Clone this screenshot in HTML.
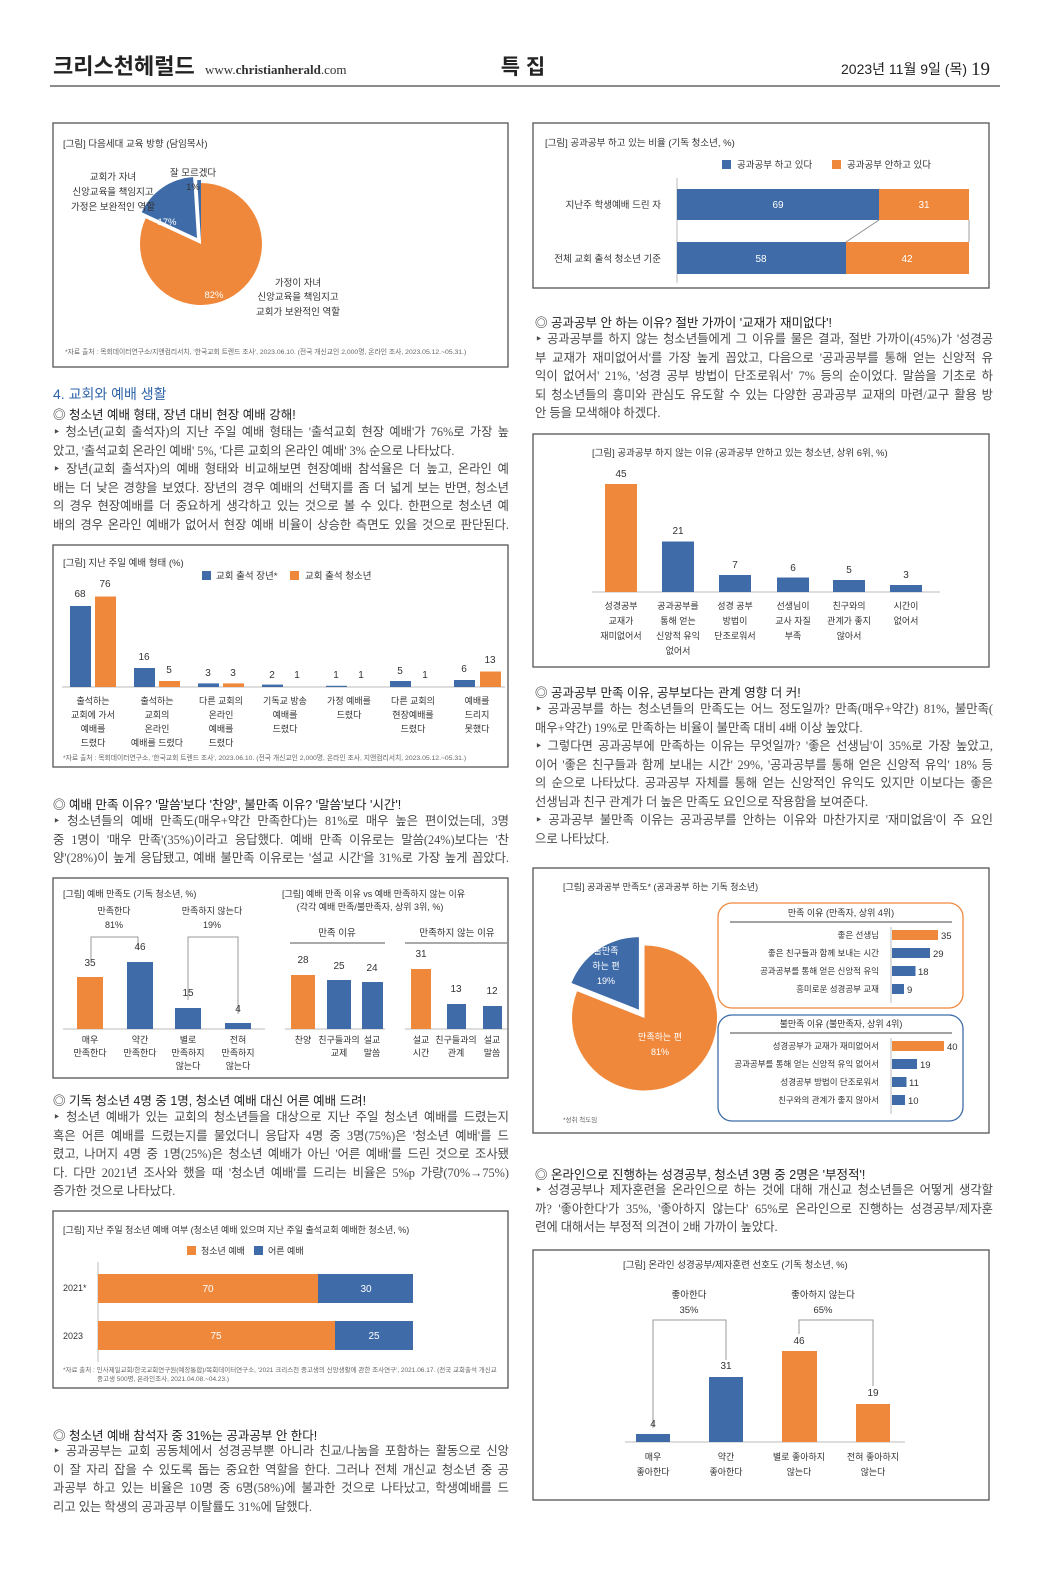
<!DOCTYPE html>
<html><head><meta charset="utf-8">
<style>
body{margin:0;background:#fff;}
#pg{position:relative;width:1051px;height:1580px;overflow:hidden;background:#fff;}
svg{position:absolute;left:0;top:0;}
.p{position:absolute;font-family:"Liberation Serif","Noto Sans CJK KR",serif;font-size:12.3px;line-height:18.5px;color:#4a4a4a;}
.p div{white-space:nowrap;height:18.5px;}
.p .j{text-align:justify;text-align-last:justify;}
.h{position:absolute;font-family:"Liberation Sans","Noto Sans CJK KR",sans-serif;font-size:12.5px;color:#222;white-space:nowrap;}
</style></head><body><div id="pg">
<svg width="1051" height="1580" viewBox="0 0 1051 1580" font-family="Liberation Sans, Noto Sans CJK KR, sans-serif">
<!-- header -->
<text x="53" y="74" font-size="22" font-weight="bold" fill="#222">크리스천헤럴드</text>
<text x="205" y="74" font-size="13" fill="#333" font-family="Liberation Serif, serif">www.<tspan font-weight="bold">christianherald</tspan>.com</text>
<text x="523" y="74" font-size="21" font-weight="bold" fill="#222" text-anchor="middle">특 집</text>
<text x="967" y="74" font-size="14" fill="#222" text-anchor="end">2023년 11월 9일 (목)</text>
<text x="990" y="75" font-size="19" fill="#222" text-anchor="end" font-family="Liberation Serif, serif">19</text>
<line x1="50" y1="86" x2="1000" y2="86" stroke="#666" stroke-width="1.5"/>

<g fill="none" stroke="#555" stroke-width="1.3">
<rect x="53" y="123" width="455" height="244"/>
<rect x="53" y="545" width="455" height="222"/>
<rect x="53" y="878" width="455" height="200"/>
<rect x="53" y="1211" width="455" height="177"/>
<rect x="533" y="123" width="456" height="165"/>
<rect x="533" y="434" width="456" height="233"/>
<rect x="533" y="868" width="456" height="265"/>
<rect x="533" y="1250" width="456" height="250"/>
</g>

<!-- chart 1 pie -->
<g font-size="9.5" fill="#333">
<text x="63" y="147">[그림] 다음세대 교육 방향 (담임목사)</text>
<path d="M201,244 L201,183 A61,61 0 1 1 145.7,218.2 Z" fill="#f0883c"/>
<path d="M197,238 L141.7,212.2 A61,61 0 0 1 193.1,177.1 Z" fill="#3f6ca8"/>
<path d="M201,241 L197.2,180.1 A61,61 0 0 1 201,180 Z" fill="#3f6ca8"/>
<text x="113" y="180" text-anchor="middle">교회가 자녀</text>
<text x="113" y="195" text-anchor="middle">신앙교육을 책임지고</text>
<text x="113" y="210" text-anchor="middle">가정은 보완적인 역할</text>
<text x="193" y="176" text-anchor="middle">잘 모르겠다</text>
<text x="193" y="190" text-anchor="middle">1%</text>
<text x="167" y="225" text-anchor="middle" fill="#fff">17%</text>
<text x="214" y="298" text-anchor="middle" fill="#fff">82%</text>
<text x="298" y="286" text-anchor="middle">가정이 자녀</text>
<text x="298" y="300" text-anchor="middle">신앙교육을 책임지고</text>
<text x="298" y="315" text-anchor="middle">교회가 보완적인 역할</text>
<text x="65" y="354" font-size="6.8" fill="#666">*자료 출처 : 목회데이터연구소/지앤컴리서치, '한국교회 트렌드 조사', 2023.06.10. (전국 개신교인 2,000명, 온라인 조사, 2023.05.12.~05.31.)</text>
</g>

<!-- chart 2 -->
<g font-size="9.5" fill="#333">
<text x="63" y="566">[그림] 지난 주일 예배 형태 (%)</text>
<rect x="202" y="571" width="9" height="9" fill="#3f6ca8"/><text x="216" y="579">교회 출석 장년*</text>
<rect x="290" y="571" width="9" height="9" fill="#f0883c"/><text x="305" y="579">교회 출석 청소년</text>
<line x1="62" y1="687" x2="505" y2="687" stroke="#bbb"/>
<g fill="#3f6ca8">
<rect x="70" y="606" width="21" height="81"/>
<rect x="134" y="668" width="21" height="19"/>
<rect x="198" y="683.4" width="21" height="3.6"/>
<rect x="262" y="684.6" width="21" height="2.4"/>
<rect x="326" y="685.8" width="21" height="1.2"/>
<rect x="390" y="681" width="21" height="6"/>
<rect x="454" y="680" width="21" height="7"/>
</g>
<g fill="#f0883c">
<rect x="95" y="596.5" width="21" height="90.5"/>
<rect x="159" y="681" width="21" height="6"/>
<rect x="223" y="683.4" width="21" height="3.6"/>
<rect x="480" y="671.5" width="21" height="15.5"/>
</g>
<g text-anchor="middle" font-size="10">
<text x="80" y="597">68</text><text x="105" y="587">76</text>
<text x="144" y="660">16</text><text x="169" y="673">5</text>
<text x="208" y="676">3</text><text x="233" y="676">3</text>
<text x="272" y="678">2</text><text x="297" y="678">1</text>
<text x="336" y="678">1</text><text x="361" y="678">1</text>
<text x="400" y="674">5</text><text x="425" y="678">1</text>
<text x="464" y="672">6</text><text x="490" y="663">13</text>
</g>
<g text-anchor="middle" font-size="9">
<text x="93" y="704">출석하는</text><text x="93" y="718">교회에 가서</text><text x="93" y="732">예배를</text><text x="93" y="746">드렸다</text>
<text x="157" y="704">출석하는</text><text x="157" y="718">교회의</text><text x="157" y="732">온라인</text><text x="157" y="746">예배를 드렸다</text>
<text x="221" y="704">다른 교회의</text><text x="221" y="718">온라인</text><text x="221" y="732">예배를</text><text x="221" y="746">드렸다</text>
<text x="285" y="704">기독교 방송</text><text x="285" y="718">예배를</text><text x="285" y="732">드렸다</text>
<text x="349" y="704">가정 예배를</text><text x="349" y="718">드렸다</text>
<text x="413" y="704">다른 교회의</text><text x="413" y="718">현장예배를</text><text x="413" y="732">드렸다</text>
<text x="477" y="704">예배를</text><text x="477" y="718">드리지</text><text x="477" y="732">못했다</text>
</g>
<text x="63" y="760" font-size="6.8" fill="#666">*자료 출처 : 목회데이터연구소, '한국교회 트렌드 조사', 2023.06.10. (전국 개신교인 2,000명, 온라인 조사, 지앤컴리서치, 2023.05.12.~05.31.)</text>
</g>

<!-- chart 3 -->
<g font-size="9" fill="#333">
<text x="63" y="897">[그림] 예배 만족도 (기독 청소년, %)</text>
<text x="114" y="914" text-anchor="middle">만족한다</text><text x="114" y="928" text-anchor="middle">81%</text>
<text x="212" y="914" text-anchor="middle">만족하지 않는다</text><text x="212" y="928" text-anchor="middle">19%</text>
<g stroke="#999" fill="none"><path d="M91,960 V937 H138 V950"/><path d="M188,1000 V937 H238 V1014"/></g>
<line x1="63" y1="1029" x2="265" y2="1029" stroke="#bbb"/>
<rect x="77" y="977" width="26" height="52" fill="#f0883c"/>
<rect x="127" y="962" width="26" height="67" fill="#3f6ca8"/>
<rect x="175" y="1008" width="26" height="21" fill="#3f6ca8"/>
<rect x="225" y="1023" width="26" height="6" fill="#3f6ca8"/>
<g text-anchor="middle" font-size="10"><text x="90" y="966">35</text><text x="140" y="950">46</text><text x="188" y="996">15</text><text x="238" y="1012">4</text></g>
<g text-anchor="middle">
<text x="90" y="1043">매우</text><text x="90" y="1056">만족한다</text>
<text x="140" y="1043">약간</text><text x="140" y="1056">만족한다</text>
<text x="188" y="1043">별로</text><text x="188" y="1056">만족하지</text><text x="188" y="1069">않는다</text>
<text x="238" y="1043">전혀</text><text x="238" y="1056">만족하지</text><text x="238" y="1069">않는다</text>
</g>
<text x="282" y="897">[그림] 예배 만족 이유 vs 예배 만족하지 않는 이유</text>
<text x="370" y="910" text-anchor="middle">(각각 예배 만족/불만족자, 상위 3위, %)</text>
<text x="337" y="936" text-anchor="middle" font-size="9.5">만족 이유</text>
<text x="457" y="936" text-anchor="middle" font-size="9.5">만족하지 않는 이유</text>
<line x1="290" y1="943" x2="385" y2="943" stroke="#555"/>
<line x1="405" y1="943" x2="507" y2="943" stroke="#555"/>
<line x1="285" y1="1029" x2="385" y2="1029" stroke="#bbb"/>
<line x1="405" y1="1029" x2="507" y2="1029" stroke="#bbb"/>
<rect x="291" y="975" width="24" height="54" fill="#f0883c"/>
<rect x="327" y="980" width="24" height="49" fill="#3f6ca8"/>
<rect x="362" y="982" width="21" height="47" fill="#3f6ca8"/>
<rect x="411" y="969" width="20" height="60" fill="#f0883c"/>
<rect x="447" y="1004" width="19" height="25" fill="#3f6ca8"/>
<rect x="483" y="1006" width="19" height="23" fill="#3f6ca8"/>
<g text-anchor="middle" font-size="10"><text x="303" y="963">28</text><text x="339" y="969">25</text><text x="372" y="971">24</text><text x="421" y="957">31</text><text x="456" y="992">13</text><text x="492" y="994">12</text></g>
<g text-anchor="middle">
<text x="303" y="1043">찬양</text>
<text x="339" y="1043">친구들과의</text><text x="339" y="1056">교제</text>
<text x="372" y="1043">설교</text><text x="372" y="1056">말씀</text>
<text x="421" y="1043">설교</text><text x="421" y="1056">시간</text>
<text x="456" y="1043">친구들과의</text><text x="456" y="1056">관계</text>
<text x="492" y="1043">설교</text><text x="492" y="1056">말씀</text>
</g>
</g>

<!-- chart 4 -->
<g font-size="9" fill="#333">
<text x="63" y="1233">[그림] 지난 주일 청소년 예배 여부 (청소년 예배 있으며 지난 주일 출석교회 예배한 청소년, %)</text>
<rect x="187" y="1246" width="9" height="9" fill="#f0883c"/><text x="201" y="1254">청소년 예배</text>
<rect x="254" y="1246" width="9" height="9" fill="#3f6ca8"/><text x="268" y="1254">어른 예배</text>
<line x1="98" y1="1262" x2="98" y2="1362" stroke="#bbb"/>
<rect x="98" y="1274" width="220" height="29" fill="#f0883c"/>
<rect x="318" y="1274" width="95" height="29" fill="#3f6ca8"/>
<rect x="98" y="1321" width="237" height="29" fill="#f0883c"/>
<rect x="335" y="1321" width="78" height="29" fill="#3f6ca8"/>
<text x="63" y="1291">2021*</text><text x="63" y="1339">2023</text>
<g fill="#fff" text-anchor="middle" font-size="10"><text x="208" y="1292">70</text><text x="366" y="1292">30</text><text x="216" y="1339">75</text><text x="374" y="1339">25</text></g>
<text x="63" y="1372" font-size="6.5" fill="#666">*자료 출처 : 인사제일교회/한국교회연구원(예장통합)/목회데이터연구소, '2021 크리스천 중고생의 신앙생활에 관한 조사연구', 2021.06.17. (전국 교회출석 개신교</text>
<text x="97" y="1381" font-size="6.5" fill="#666">중고생 500명, 온라인조사, 2021.04.08.~04.23.)</text>
</g>

<!-- chart 5 -->
<g font-size="9.5" fill="#333">
<text x="545" y="146">[그림] 공과공부 하고 있는 비율 (기독 청소년, %)</text>
<rect x="722" y="160" width="9" height="9" fill="#3f6ca8"/><text x="737" y="168">공과공부 하고 있다</text>
<rect x="832" y="160" width="9" height="9" fill="#f0883c"/><text x="847" y="168">공과공부 안하고 있다</text>
<line x1="677" y1="178" x2="677" y2="283" stroke="#bbb"/>
<rect x="677" y="189" width="202" height="31" fill="#3f6ca8"/>
<rect x="879" y="189" width="90" height="31" fill="#f0883c"/>
<rect x="677" y="242" width="169" height="32" fill="#3f6ca8"/>
<rect x="846" y="242" width="123" height="32" fill="#f0883c"/>
<path d="M879,220 L846,242 M969,220 L969,242" stroke="#888" stroke-width="0.8"/>
<text x="661" y="208" text-anchor="end">지난주 학생예배 드린 자</text>
<text x="661" y="262" text-anchor="end">전체 교회 출석 청소년 기준</text>
<g fill="#fff" text-anchor="middle" font-size="10"><text x="778" y="208">69</text><text x="924" y="208">31</text><text x="761" y="262">58</text><text x="907" y="262">42</text></g>
</g>

<!-- chart 6 -->
<g font-size="9.5" fill="#333">
<text x="592" y="456">[그림] 공과공부 하지 않는 이유 (공과공부 안하고 있는 청소년, 상위 6위, %)</text>
<line x1="592" y1="592" x2="940" y2="592" stroke="#bbb"/>
<rect x="605" y="484" width="32" height="108" fill="#f0883c"/>
<rect x="662" y="541.5" width="32" height="50.5" fill="#3f6ca8"/>
<rect x="719" y="575" width="32" height="17" fill="#3f6ca8"/>
<rect x="777" y="577.5" width="32" height="14.5" fill="#3f6ca8"/>
<rect x="833" y="580" width="32" height="12" fill="#3f6ca8"/>
<rect x="890" y="585" width="32" height="7" fill="#3f6ca8"/>
<g text-anchor="middle" font-size="10"><text x="621" y="477">45</text><text x="678" y="534">21</text><text x="735" y="568">7</text><text x="793" y="571">6</text><text x="849" y="573">5</text><text x="906" y="578">3</text></g>
<g text-anchor="middle" font-size="9">
<text x="621" y="609">성경공부</text><text x="621" y="624">교재가</text><text x="621" y="639">재미없어서</text>
<text x="678" y="609">공과공부를</text><text x="678" y="624">통해 얻는</text><text x="678" y="639">신앙적 유익</text><text x="678" y="654">없어서</text>
<text x="735" y="609">성경 공부</text><text x="735" y="624">방법이</text><text x="735" y="639">단조로워서</text>
<text x="793" y="609">선생님이</text><text x="793" y="624">교사 자질</text><text x="793" y="639">부족</text>
<text x="849" y="609">친구와의</text><text x="849" y="624">관계가 좋지</text><text x="849" y="639">않아서</text>
<text x="906" y="609">시간이</text><text x="906" y="624">없어서</text>
</g>
</g>

<!-- chart 7 -->
<g font-size="9" fill="#333">
<text x="563" y="890">[그림] 공과공부 만족도* (공과공부 하는 기독 청소년)</text>
<path d="M644.5,1018 L644.5,945.5 A72.5,72.5 0 1 1 577.1,991.3 Z" fill="#f0883c"/>
<path d="M638.9,1009.7 L571.5,983.0 A72.5,72.5 0 0 1 638.9,937.2 Z" fill="#3f6ca8"/>
<g fill="#fff" text-anchor="middle"><text x="606" y="954">불만족</text><text x="606" y="969">하는 편</text><text x="606" y="984">19%</text>
<text x="660" y="1040">만족하는 편</text><text x="660" y="1055">81%</text></g>
<text x="563" y="1122" font-size="6.5" fill="#666">*성취 척도임</text>
<rect x="718" y="903" width="245" height="105" rx="14" fill="none" stroke="#f0883c" stroke-width="1.3"/>
<rect x="718" y="1015" width="245" height="106" rx="14" fill="none" stroke="#3f6ca8" stroke-width="1.3"/>
<text x="841" y="916" text-anchor="middle">만족 이유 (만족자, 상위 4위)</text>
<line x1="730" y1="922" x2="952" y2="922" stroke="#444"/>
<text x="841" y="1027" text-anchor="middle">불만족 이유 (불만족자, 상위 4위)</text>
<line x1="730" y1="1033" x2="952" y2="1033" stroke="#444"/>
<line x1="891" y1="927" x2="891" y2="1003" stroke="#bbb"/>
<line x1="891" y1="1038" x2="891" y2="1114" stroke="#bbb"/>
<g text-anchor="end" font-size="8.5">
<text x="879" y="938">좋은 선생님</text><text x="879" y="956">좋은 친구들과 함께 보내는 시간</text><text x="879" y="974">공과공부를 통해 얻은 신앙적 유익</text><text x="879" y="992">흥미로운 성경공부 교재</text>
<text x="879" y="1049">성경공부가 교재가 재미없어서</text><text x="879" y="1067">공과공부를 통해 얻는 신앙적 유익 없어서</text><text x="879" y="1085">성경공부 방법이 단조로워서</text><text x="879" y="1103">친구와의 관계가 좋지 않아서</text>
</g>
<rect x="892" y="930" width="46" height="10" fill="#f0883c"/>
<rect x="892" y="948" width="38" height="10" fill="#3f6ca8"/>
<rect x="892" y="966" width="23.5" height="10" fill="#3f6ca8"/>
<rect x="892" y="984" width="12" height="10" fill="#3f6ca8"/>
<rect x="892" y="1041" width="52" height="10" fill="#f0883c"/>
<rect x="892" y="1059" width="25" height="10" fill="#3f6ca8"/>
<rect x="892" y="1077" width="14.5" height="10" fill="#3f6ca8"/>
<rect x="892" y="1095" width="13" height="10" fill="#3f6ca8"/>
<g font-size="9.5">
<text x="941" y="939">35</text><text x="933" y="957">29</text><text x="918" y="975">18</text><text x="907" y="993">9</text>
<text x="947" y="1050">40</text><text x="920" y="1068">19</text><text x="909" y="1086">11</text><text x="908" y="1104">10</text>
</g>
</g>

<!-- chart 8 -->
<g font-size="9.5" fill="#333">
<text x="623" y="1268">[그림] 온라인 성경공부/제자훈련 선호도 (기독 청소년, %)</text>
<text x="689" y="1298" text-anchor="middle">좋아한다</text><text x="689" y="1313" text-anchor="middle">35%</text>
<text x="823" y="1298" text-anchor="middle">좋아하지 않는다</text><text x="823" y="1313" text-anchor="middle">65%</text>
<g stroke="#999" fill="none"><path d="M653,1428 V1320 H726 V1360"/><path d="M799,1334 V1320 H873 V1386"/></g>
<line x1="625" y1="1442" x2="905" y2="1442" stroke="#bbb"/>
<rect x="636" y="1434" width="34" height="8" fill="#3f6ca8"/>
<rect x="709" y="1377" width="34" height="65" fill="#3f6ca8"/>
<rect x="782" y="1351" width="35" height="91" fill="#f0883c"/>
<rect x="856" y="1404" width="34" height="38" fill="#f0883c"/>
<g text-anchor="middle" font-size="10"><text x="653" y="1427">4</text><text x="726" y="1369">31</text><text x="799" y="1344">46</text><text x="873" y="1396">19</text></g>
<g text-anchor="middle" font-size="9">
<text x="653" y="1460">매우</text><text x="653" y="1475">좋아한다</text>
<text x="726" y="1460">약간</text><text x="726" y="1475">좋아한다</text>
<text x="799" y="1460">별로 좋아하지</text><text x="799" y="1475">않는다</text>
<text x="873" y="1460">전혀 좋아하지</text><text x="873" y="1475">않는다</text>
</g>
</g>
</svg>

<div class="h" style="left:53px;top:384px;font-size:14px;color:#2f64a8;">4. 교회와 예배 생활</div>
<div class="h" style="left:53px;top:404px;">◎ 청소년 예배 형태, 장년 대비 현장 예배 강해!</div>
<div class="p" style="left:53px;top:423px;width:456px;">
<div class="j">‣ 청소년(교회 출석자)의 지난 주일 예배 형태는 '출석교회 현장 예배'가 76%로 가장 높</div>
<div>았고, '출석교회 온라인 예배' 5%, '다른 교회의 온라인 예배' 3% 순으로 나타났다.</div>
<div class="j">‣ 장년(교회 출석자)의 예배 형태와 비교해보면 현장예배 참석율은 더 높고, 온라인 예</div>
<div class="j">배는 더 낮은 경향을 보였다. 장년의 경우 예배의 선택지를 좀 더 넓게 보는 반면, 청소년</div>
<div class="j">의 경우 현장예배를 더 중요하게 생각하고 있는 것으로 볼 수 있다. 한편으로 청소년 예</div>
<div class="j">배의 경우 온라인 예배가 없어서 현장 예배 비율이 상승한 측면도 있을 것으로 판단된다.</div>
</div>

<div class="h" style="left:53px;top:794px;">◎ 예배 만족 이유? '말씀'보다 '찬양', 불만족 이유? '말씀'보다 '시간'!</div>
<div class="p" style="left:53px;top:812px;width:456px;">
<div class="j">‣ 청소년들의 예배 만족도(매우+약간 만족한다)는 81%로 매우 높은 편이었는데, 3명</div>
<div class="j">중 1명이 '매우 만족'(35%)이라고 응답했다. 예배 만족 이유로는 말씀(24%)보다는 '찬</div>
<div class="j">양'(28%)이 높게 응답됐고, 예배 불만족 이유로는 '설교 시간'을 31%로 가장 높게 꼽았다.</div>
</div>

<div class="h" style="left:53px;top:1090px;">◎ 기독 청소년 4명 중 1명, 청소년 예배 대신 어른 예배 드려!</div>
<div class="p" style="left:53px;top:1108px;width:456px;">
<div class="j">‣ 청소년 예배가 있는 교회의 청소년들을 대상으로 지난 주일 청소년 예배를 드렸는지</div>
<div class="j">혹은 어른 예배를 드렸는지를 물었더니 응답자 4명 중 3명(75%)은 '청소년 예배'를 드</div>
<div class="j">렸고, 나머지 4명 중 1명(25%)은 청소년 예배가 아닌 '어른 예배'를 드린 것으로 조사됐</div>
<div class="j">다. 다만 2021년 조사와 했을 때 '청소년 예배'를 드리는 비율은 5%p 가량(70%→75%)</div>
<div>증가한 것으로 나타났다.</div>
</div>

<div class="h" style="left:53px;top:1425px;">◎ 청소년 예배 참석자 중 31%는 공과공부 안 한다!</div>
<div class="p" style="left:53px;top:1442px;width:456px;">
<div class="j">‣ 공과공부는 교회 공동체에서 성경공부뿐 아니라 친교/나눔을 포함하는 활동으로 신앙</div>
<div class="j">이 잘 자리 잡을 수 있도록 돕는 중요한 역할을 한다. 그러나 전체 개신교 청소년 중 공</div>
<div class="j">과공부 하고 있는 비율은 10명 중 6명(58%)에 불과한 것으로 나타났고, 학생예배를 드</div>
<div>리고 있는 학생의 공과공부 이탈률도 31%에 달했다.</div>
</div>

<div class="h" style="left:535px;top:312px;">◎ 공과공부 안 하는 이유? 절반 가까이 '교재가 재미없다'!</div>
<div class="p" style="left:535px;top:330px;width:458px;">
<div class="j">‣ 공과공부를 하지 않는 청소년들에게 그 이유를 물은 결과, 절반 가까이(45%)가 '성경공</div>
<div class="j">부 교재가 재미없어서'를 가장 높게 꼽았고, 다음으로 '공과공부를 통해 얻는 신앙적 유</div>
<div class="j">익이 없어서' 21%, '성경 공부 방법이 단조로워서' 7% 등의 순이었다. 말씀을 기초로 하</div>
<div class="j">되 청소년들의 흥미와 관심도 유도할 수 있는 다양한 공과공부 교재의 마련/교구 활용 방</div>
<div>안 등을 모색해야 하겠다.</div>
</div>

<div class="h" style="left:535px;top:682px;">◎ 공과공부 만족 이유, 공부보다는 관계 영향 더 커!</div>
<div class="p" style="left:535px;top:700px;width:458px;">
<div class="j">‣ 공과공부를 하는 청소년들의 만족도는 어느 정도일까? 만족(매우+약간) 81%, 불만족(</div>
<div>매우+약간) 19%로 만족하는 비율이 불만족 대비 4배 이상 높았다.</div>
<div class="j">‣ 그렇다면 공과공부에 만족하는 이유는 무엇일까? '좋은 선생님'이 35%로 가장 높았고,</div>
<div class="j">이어 '좋은 친구들과 함께 보내는 시간' 29%, '공과공부를 통해 얻은 신앙적 유익' 18% 등</div>
<div class="j">의 순으로 나타났다. 공과공부 자체를 통해 얻는 신앙적인 유익도 있지만 이보다는 좋은</div>
<div>선생님과 친구 관계가 더 높은 만족도 요인으로 작용함을 보여준다.</div>
<div class="j">‣ 공과공부 불만족 이유는 공과공부를 안하는 이유와 마찬가지로 '재미없음'이 주 요인</div>
<div>으로 나타났다.</div>
</div>

<div class="h" style="left:535px;top:1164px;">◎ 온라인으로 진행하는 성경공부, 청소년 3명 중 2명은 '부정적'!</div>
<div class="p" style="left:535px;top:1181px;width:458px;">
<div class="j">‣ 성경공부나 제자훈련을 온라인으로 하는 것에 대해 개신교 청소년들은 어떻게 생각할</div>
<div class="j">까? '좋아한다'가 35%, '좋아하지 않는다' 65%로 온라인으로 진행하는 성경공부/제자훈</div>
<div>련에 대해서는 부정적 의견이 2배 가까이 높았다.</div>
</div>
</div></body></html>
